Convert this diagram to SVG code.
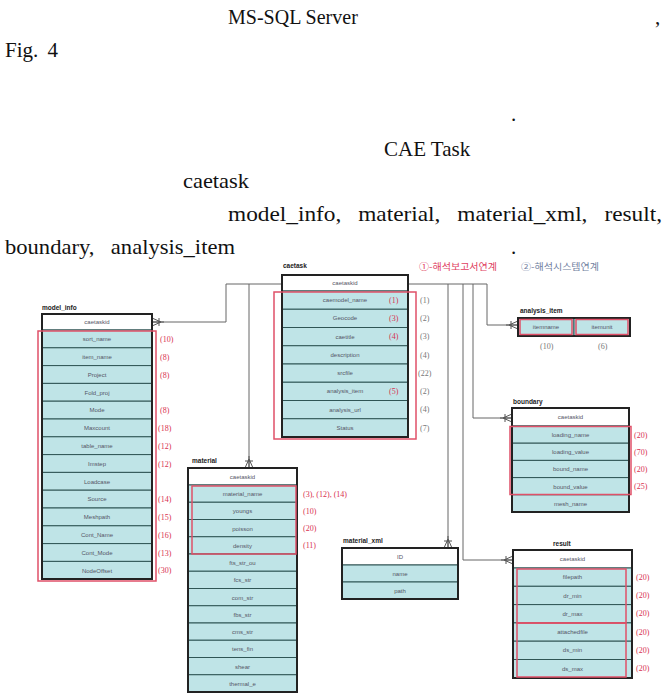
<svg xmlns="http://www.w3.org/2000/svg" width="668" height="695" viewBox="0 0 668 695">
<defs>
<style>
.body{font-family:"Liberation Serif","Times New Roman",serif;font-size:21px;fill:#111}
.ttl{font-family:"Liberation Sans",Arial,sans-serif;font-size:6.5px;font-weight:bold;fill:#222}
.hd{fill:#fff;stroke:#2f4f4f;stroke-width:1}
.rw{fill:#bfe4e7;stroke:#2f5555;stroke-width:1}
.box{fill:none;stroke:#222;stroke-width:2}
.red{fill:none;stroke:#e05068;stroke-width:1.5}
.ft{font-family:"Liberation Sans",Arial,sans-serif;font-size:6px;fill:#556;text-anchor:middle}
.rc{font-family:"Liberation Serif",serif;font-size:8px;fill:#d83050}
.gc{font-family:"Liberation Serif",serif;font-size:8px;fill:#777}
.lg{font-family:"Noto Sans CJK KR","Noto Sans",sans-serif;font-size:9px}
.cn{fill:none;stroke:#666;stroke-width:1}
</style>
<marker id="crow" viewBox="-12 -6 13 12" refX="0" refY="0" markerWidth="13" markerHeight="12" markerUnits="userSpaceOnUse" orient="auto">
<path d="M-9,0 L0,-4 M-9,0 L0,4 M-12,0 L0,0 M-7,-4 V4" fill="none" stroke="#555" stroke-width="1"/>
</marker>
</defs>
<rect width="668" height="695" fill="#fff"/>

<g id="text">
<text class="body" x="228" y="24" style="font-size:20px">MS-SQL Server</text>
<text class="body" x="655" y="24">,</text>
<text class="body" x="5" y="57" word-spacing="4">Fig. 4</text>
<text class="body" x="511" y="121">.</text>
<text class="body" x="384" y="156">CAE Task</text>
<text class="body" x="183" y="188" textLength="66" lengthAdjust="spacingAndGlyphs">caetask</text>
<text class="body" x="228" y="221" word-spacing="10" textLength="434" lengthAdjust="spacingAndGlyphs">model_info, material, material_xml, result,</text>
<text class="body" x="5" y="254" word-spacing="10" textLength="230" lengthAdjust="spacingAndGlyphs">boundary, analysis_item</text>
<text class="body" x="511" y="254">.</text>
</g>

<g id="legend">
<text class="lg" x="419" y="270" fill="#e04060" textLength="78" lengthAdjust="spacingAndGlyphs">①-해석보고서연계</text>
<text class="lg" x="521" y="270" fill="#7080a0" textLength="78" lengthAdjust="spacingAndGlyphs">②-해석시스템연계</text>
</g>

<g id="connectors">
<path class="cn" d="M282,284 H226 V322 H152" marker-end="url(#crow)"/>
<path class="cn" d="M249,284 V468" marker-end="url(#crow)"/>
<path class="cn" d="M408,284 H487 V325 H518" marker-end="url(#crow)"/>
<path class="cn" d="M448,284 V548" marker-end="url(#crow)"/>
<path class="cn" d="M463,284 V560 H513" marker-end="url(#crow)"/>
<path class="cn" d="M473,284 V418 H512" marker-end="url(#crow)"/>
</g>

<g id="caetask">
<text class="ttl" x="283" y="268">caetask</text>
<rect class="hd" x="282" y="275" width="126" height="16"/>
<text class="ft" x="345" y="285">caetaskid</text>
<rect class="rw" x="282" y="291" width="126" height="18.25"/>
<rect class="rw" x="282" y="309.25" width="126" height="18.25"/>
<rect class="rw" x="282" y="327.5" width="126" height="18.25"/>
<rect class="rw" x="282" y="345.75" width="126" height="18.25"/>
<rect class="rw" x="282" y="364" width="126" height="18.25"/>
<rect class="rw" x="282" y="382.25" width="126" height="18.25"/>
<rect class="rw" x="282" y="400.5" width="126" height="18.25"/>
<rect class="rw" x="282" y="418.75" width="126" height="18.25"/>
<text class="ft" x="345" y="302">caemodel_name</text>
<text class="ft" x="345" y="320">Geocode</text>
<text class="ft" x="345" y="338.5">caetitle</text>
<text class="ft" x="345" y="357">description</text>
<text class="ft" x="345" y="375">srcfile</text>
<text class="ft" x="345" y="393">analysis_item</text>
<text class="ft" x="345" y="411.5">analysis_url</text>
<text class="ft" x="345" y="430">Status</text>
<rect class="box" x="282" y="275" width="126" height="162"/>
<rect class="red" x="274" y="292" width="142" height="147"/>
<text class="rc" x="389" y="303">(1)</text>
<text class="rc" x="389" y="321">(3)</text>
<text class="rc" x="389" y="339">(4)</text>
<text class="rc" x="389" y="394">(5)</text>
<text class="gc" x="420" y="303">(1)</text>
<text class="gc" x="420" y="321">(2)</text>
<text class="gc" x="420" y="339">(3)</text>
<text class="gc" x="420" y="358">(4)</text>
<text class="gc" x="418" y="376">(22)</text>
<text class="gc" x="420" y="394">(2)</text>
<text class="gc" x="420" y="412">(4)</text>
<text class="gc" x="420" y="431">(7)</text>
</g>

<g id="model_info">
<text class="ttl" x="42" y="310">model_info</text>
<rect class="hd" x="42" y="314" width="110" height="16"/>
<text class="ft" x="97" y="324">caetaskid</text>
<g>
<rect class="rw" x="42" y="330" width="110" height="17.8"/>
<rect class="rw" x="42" y="347.8" width="110" height="17.8"/>
<rect class="rw" x="42" y="365.6" width="110" height="17.8"/>
<rect class="rw" x="42" y="383.4" width="110" height="17.8"/>
<rect class="rw" x="42" y="401.2" width="110" height="17.8"/>
<rect class="rw" x="42" y="419" width="110" height="17.8"/>
<rect class="rw" x="42" y="436.8" width="110" height="17.8"/>
<rect class="rw" x="42" y="454.6" width="110" height="17.8"/>
<rect class="rw" x="42" y="472.4" width="110" height="17.8"/>
<rect class="rw" x="42" y="490.2" width="110" height="17.8"/>
<rect class="rw" x="42" y="508" width="110" height="17.8"/>
<rect class="rw" x="42" y="525.8" width="110" height="17.8"/>
<rect class="rw" x="42" y="543.6" width="110" height="17.8"/>
<rect class="rw" x="42" y="561.4" width="110" height="17.8"/>
</g>
<text class="ft" x="97" y="341">sort_name</text>
<text class="ft" x="97" y="359">item_name</text>
<text class="ft" x="97" y="377">Project</text>
<text class="ft" x="97" y="394.5">Fold_proj</text>
<text class="ft" x="97" y="412">Mode</text>
<text class="ft" x="97" y="430">Maxcount</text>
<text class="ft" x="97" y="448">table_name</text>
<text class="ft" x="97" y="466">Imstep</text>
<text class="ft" x="97" y="483.5">Loadcase</text>
<text class="ft" x="97" y="501">Source</text>
<text class="ft" x="97" y="519">Meshpath</text>
<text class="ft" x="97" y="537">Cont_Name</text>
<text class="ft" x="97" y="555">Cont_Mode</text>
<text class="ft" x="97" y="572.5">NodeOffset</text>
<rect class="box" x="42" y="314" width="110" height="265"/>
<rect class="red" x="38" y="331" width="118" height="250"/>
<text class="rc" x="160" y="342">(10)</text>
<text class="rc" x="160" y="360">(8)</text>
<text class="rc" x="160" y="378">(8)</text>
<text class="rc" x="160" y="413">(8)</text>
<text class="rc" x="158" y="431">(18)</text>
<text class="rc" x="158" y="449">(12)</text>
<text class="rc" x="158" y="467">(12)</text>
<text class="rc" x="158" y="502">(14)</text>
<text class="rc" x="158" y="520">(15)</text>
<text class="rc" x="158" y="538">(16)</text>
<text class="rc" x="158" y="556">(13)</text>
<text class="rc" x="158" y="573">(30)</text>
</g>

<g id="analysis_item">
<text class="ttl" x="520" y="313">analysis_item</text>
<rect class="rw" x="518" y="318" width="56" height="18"/>
<rect class="rw" x="574" y="318" width="56" height="18"/>
<text class="ft" x="546" y="329">itemname</text>
<text class="ft" x="602" y="329">itemunit</text>
<rect class="box" x="518" y="318" width="112" height="18"/>
<rect class="red" x="520" y="319.5" width="52" height="15"/>
<rect class="red" x="576" y="319.5" width="52" height="15"/>
<text class="gc" x="540" y="349">(10)</text>
<text class="gc" x="598" y="349">(6)</text>
</g>

<g id="boundary">
<text class="ttl" x="513" y="404">boundary</text>
<rect class="hd" x="512" y="408" width="117" height="18"/>
<text class="ft" x="570.5" y="419">caetaskid</text>
<rect class="rw" x="512" y="426" width="117" height="17.2"/>
<rect class="rw" x="512" y="443.2" width="117" height="17.2"/>
<rect class="rw" x="512" y="460.4" width="117" height="17.2"/>
<rect class="rw" x="512" y="477.6" width="117" height="17.2"/>
<rect class="rw" x="512" y="494.8" width="117" height="17.2"/>
<text class="ft" x="570.5" y="437">loading_name</text>
<text class="ft" x="570.5" y="454">loading_value</text>
<text class="ft" x="570.5" y="471">bound_name</text>
<text class="ft" x="570.5" y="488.5">bound_value</text>
<text class="ft" x="570.5" y="505.5">mesh_name</text>
<rect class="box" x="512" y="408" width="117" height="104"/>
<rect class="red" x="510" y="426.5" width="121" height="68"/>
<text class="rc" x="634" y="438">(20)</text>
<text class="rc" x="634" y="455">(70)</text>
<text class="rc" x="634" y="472">(20)</text>
<text class="rc" x="634" y="489">(25)</text>
</g>

<g id="material">
<text class="ttl" x="192" y="463">material</text>
<rect class="hd" x="188" y="468" width="109" height="17"/>
<text class="ft" x="242.5" y="478.5">caetaskid</text>
<rect class="rw" x="188" y="485" width="109" height="17.25"/>
<rect class="rw" x="188" y="502.25" width="109" height="17.25"/>
<rect class="rw" x="188" y="519.5" width="109" height="17.25"/>
<rect class="rw" x="188" y="536.75" width="109" height="17.25"/>
<rect class="rw" x="188" y="554" width="109" height="17.25"/>
<rect class="rw" x="188" y="571.25" width="109" height="17.25"/>
<rect class="rw" x="188" y="588.5" width="109" height="17.25"/>
<rect class="rw" x="188" y="605.75" width="109" height="17.25"/>
<rect class="rw" x="188" y="623" width="109" height="17.25"/>
<rect class="rw" x="188" y="640.25" width="109" height="17.25"/>
<rect class="rw" x="188" y="657.5" width="109" height="17.25"/>
<rect class="rw" x="188" y="674.75" width="109" height="17.25"/>
<text class="ft" x="242.5" y="496">material_name</text>
<text class="ft" x="242.5" y="513">youngs</text>
<text class="ft" x="242.5" y="530.5">poisson</text>
<text class="ft" x="242.5" y="547.5">density</text>
<text class="ft" x="242.5" y="565">fts_str_ou</text>
<text class="ft" x="242.5" y="582">fcs_str</text>
<text class="ft" x="242.5" y="599.5">com_str</text>
<text class="ft" x="242.5" y="616.5">fbs_str</text>
<text class="ft" x="242.5" y="634">cms_str</text>
<text class="ft" x="242.5" y="651">tens_fin</text>
<text class="ft" x="242.5" y="668.5">shear</text>
<text class="ft" x="242.5" y="685.5">thermal_e</text>
<rect class="box" x="188" y="468" width="109" height="224"/>
<rect class="red" x="192" y="486" width="104" height="68"/>
<text class="rc" x="303" y="497">(3), (12), (14)</text>
<text class="rc" x="303" y="514">(10)</text>
<text class="rc" x="303" y="531">(20)</text>
<text class="rc" x="303" y="548">(11)</text>
</g>

<g id="material_xml">
<text class="ttl" x="343" y="543">material_xml</text>
<rect class="hd" x="342" y="548" width="116" height="17"/>
<rect class="rw" x="342" y="565" width="116" height="17"/>
<rect class="rw" x="342" y="582" width="116" height="17"/>
<text class="ft" x="400" y="558.5">ID</text>
<text class="ft" x="400" y="575.5">name</text>
<text class="ft" x="400" y="592.5">path</text>
<rect class="box" x="342" y="548" width="116" height="51"/>
</g>

<g id="result">
<text class="ttl" x="553" y="546">result</text>
<rect class="hd" x="513" y="550" width="119" height="18"/>
<text class="ft" x="572.5" y="561">caetaskid</text>
<rect class="rw" x="513" y="568" width="119" height="18.3"/>
<rect class="rw" x="513" y="586.3" width="119" height="18.3"/>
<rect class="rw" x="513" y="604.6" width="119" height="18.3"/>
<rect class="rw" x="513" y="622.9" width="119" height="18.3"/>
<rect class="rw" x="513" y="641.2" width="119" height="18.3"/>
<rect class="rw" x="513" y="659.5" width="119" height="18.3"/>
<text class="ft" x="572.5" y="579">filepath</text>
<text class="ft" x="572.5" y="597.5">dr_min</text>
<text class="ft" x="572.5" y="615.5">dr_max</text>
<text class="ft" x="572.5" y="634">attachedfile</text>
<text class="ft" x="572.5" y="652">ds_min</text>
<text class="ft" x="572.5" y="670.5">ds_max</text>
<rect class="box" x="513" y="550" width="119" height="128"/>
<rect class="red" x="517" y="569" width="109" height="54"/>
<rect class="red" x="517" y="623" width="109" height="54"/>
<text class="rc" x="636" y="580">(20)</text>
<text class="rc" x="636" y="598">(20)</text>
<text class="rc" x="636" y="616">(20)</text>
<text class="rc" x="636" y="635">(20)</text>
<text class="rc" x="636" y="653">(20)</text>
<text class="rc" x="636" y="671">(20)</text>
</g>
</svg>
